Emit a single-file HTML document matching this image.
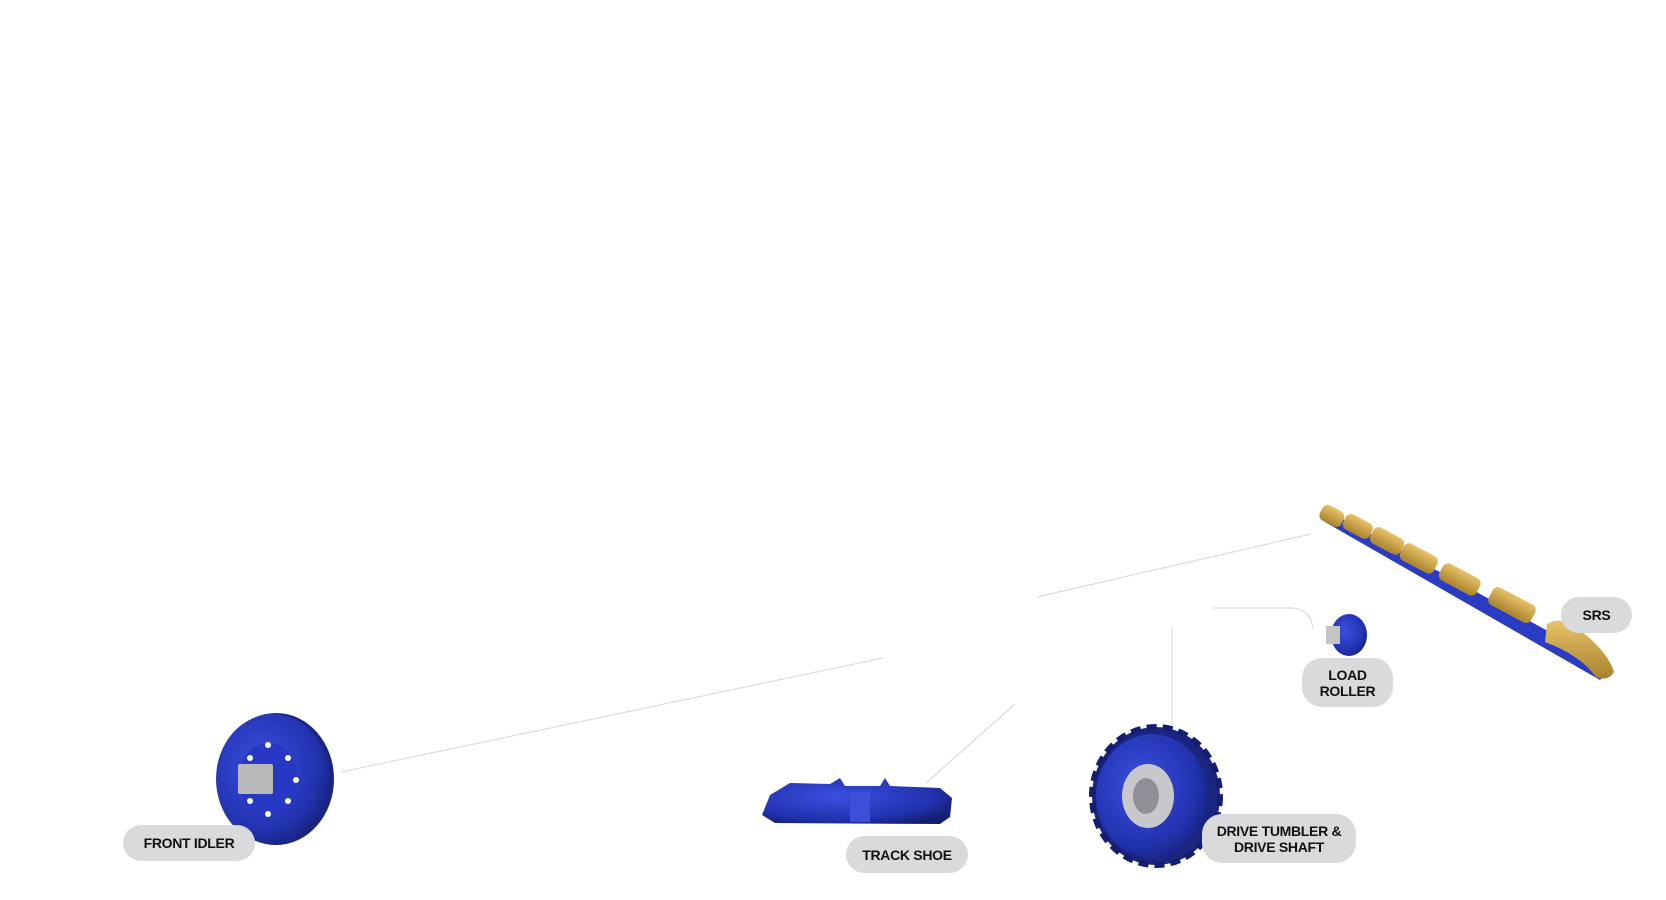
<!DOCTYPE html>
<html><head><meta charset="utf-8"><style>
html,body{margin:0;padding:0;background:#fff;width:1666px;height:900px;overflow:hidden;position:relative;font-family:"Liberation Sans",sans-serif}
.pill{position:absolute;background:#d9dadc;border-radius:20px;display:flex;align-items:center;justify-content:center;text-align:center;font-weight:bold;font-size:14px;line-height:16px;color:#111;letter-spacing:-0.3px}
svg{position:absolute;left:0;top:0}
</style></head><body>
<svg width="1666" height="900" viewBox="0 0 1666 900">
<defs>
<radialGradient id="bl" cx="40%" cy="40%" r="70%"><stop offset="0" stop-color="#3a4fe0"/><stop offset="0.7" stop-color="#2233b0"/><stop offset="1" stop-color="#141e70"/></radialGradient>
<linearGradient id="gd" x1="0" y1="0" x2="0" y2="1"><stop offset="0" stop-color="#e8c36a"/><stop offset="1" stop-color="#a9822c"/></linearGradient>
</defs>
<g stroke="#dcdcdc" stroke-width="1.2" fill="none">
<line x1="1037" y1="597" x2="1311" y2="534"/>
<path d="M1213 608 H1290 Q1311 608 1313 629"/>
<line x1="1172" y1="627" x2="1172" y2="725"/>
<line x1="1015" y1="704" x2="926" y2="783"/>
<line x1="883" y1="658" x2="341" y2="772"/>
</g>
<!-- front idler -->
<ellipse cx="276" cy="779" rx="58" ry="66" fill="#1a2580"/>
<ellipse cx="273" cy="779" rx="57" ry="65" fill="url(#bl)"/>
<ellipse cx="268" cy="779" rx="30" ry="36" fill="#2638c4"/>
<rect x="238" y="764" width="35" height="30" fill="#b9b9b9" rx="2"/>
<g fill="#fff"><circle cx="268" cy="745" r="3"/><circle cx="288" cy="758" r="3"/><circle cx="296" cy="780" r="3"/><circle cx="288" cy="801" r="3"/><circle cx="268" cy="814" r="3"/><circle cx="250" cy="758" r="3"/><circle cx="250" cy="801" r="3"/></g>
<!-- track shoe -->
<path d="M770 795 L790 783 L830 784 L840 778 L845 786 L880 786 L885 778 L890 786 L940 788 L952 798 L950 817 L940 824 L775 823 L762 815 Z" fill="url(#bl)"/>
<rect x="850" y="792" width="20" height="30" fill="#3b4fd8"/>
<!-- drive tumbler -->
<ellipse cx="1156" cy="796" rx="64" ry="69" fill="#1a2580" stroke="#141e70" stroke-width="6" stroke-dasharray="10 6"/>
<ellipse cx="1152" cy="796" rx="56" ry="62" fill="url(#bl)"/>
<ellipse cx="1148" cy="796" rx="26" ry="32" fill="#c8c8cc"/>
<ellipse cx="1146" cy="796" rx="13" ry="18" fill="#8f9096"/>
<!-- load roller -->
<ellipse cx="1349" cy="635" rx="18" ry="21" fill="url(#bl)"/>
<rect x="1326" y="626" width="14" height="18" fill="#c4c4c4"/>
<!-- SRS bar -->
<path d="M1325 522 L1337 516 L1612 666 L1600 680 Z" fill="#2a3cc4"/>
<g fill="url(#gd)">
<rect x="1320" y="508" width="24" height="17" rx="6" transform="rotate(28 1333 516)"/>
<rect x="1343" y="518" width="30" height="17" rx="6" transform="rotate(28 1358 526)"/>
<rect x="1370" y="532" width="34" height="18" rx="6" transform="rotate(28 1387 541)"/>
<rect x="1400" y="549" width="38" height="19" rx="6" transform="rotate(28 1419 558)"/>
<rect x="1439" y="570" width="42" height="19" rx="6" transform="rotate(28 1460 579)"/>
<rect x="1488" y="595" width="48" height="20" rx="6" transform="rotate(28 1512 605)"/>
<path d="M1547 624 Q1560 616 1577 628 Q1607 650 1614 672 Q1608 682 1596 677 Q1580 655 1545 642 Z"/>
</g>
</svg>
<div class="pill" style="left:1561px;top:597px;width:71px;height:36px">SRS</div>
<div class="pill" style="left:1302px;top:658px;width:91px;height:49px">LOAD<br>ROLLER</div>
<div class="pill" style="left:1202px;top:814px;width:154px;height:49px">DRIVE TUMBLER &amp;<br>DRIVE SHAFT</div>
<div class="pill" style="left:846px;top:836px;width:122px;height:37px">TRACK SHOE</div>
<div class="pill" style="left:123px;top:825px;width:132px;height:36px">FRONT IDLER</div>
</body></html>
